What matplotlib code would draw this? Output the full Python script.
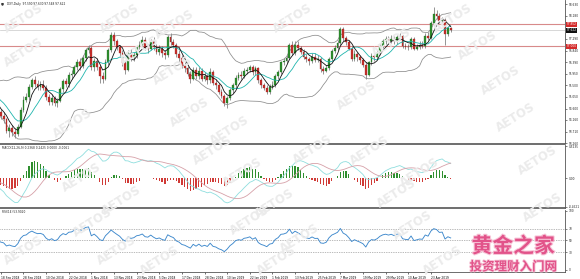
import numpy as np
import pandas as pd
import matplotlib
matplotlib.use('Agg')
import matplotlib.pyplot as plt
import matplotlib.patheffects as pe

# warm-up closes (before the visible window, only feed the indicators)
warm_close = [94.6, 95.1, 95.2, 95.4, 95.1, 95.1, 95.4, 96.2, 96.4, 96.7, 96.7, 96.6, 96.1,
              95.9, 95.2, 95.2, 95.7, 95.1, 94.7, 94.7, 94.6, 94.7, 95.1, 95.2, 95.4, 95.2,
              95.1, 95.4, 95.2, 95.2, 94.8, 94.5, 94.9, 94.5]
# visible daily bars
close = [94.30, 94.20, 93.75, 93.85, 93.70, 93.62, 93.90, 94.55, 94.95, 95.05,
         95.45, 95.70, 95.55, 95.45, 95.50, 95.40, 95.05, 94.85, 95.00, 94.80,
         94.90, 95.35, 95.65, 95.55, 95.90, 95.95, 96.20, 96.40, 96.25, 96.55,
         96.85, 96.95, 96.20, 96.45, 96.20, 95.85, 95.75, 96.40, 96.85, 97.45,
         97.20, 96.97, 96.75, 96.35, 96.10, 96.75, 96.55, 96.65, 96.96, 97.05,
         97.25, 96.95, 96.90, 97.20, 96.97, 96.80, 96.90, 96.74, 96.65, 97.35,
         97.18, 97.06, 96.70, 96.55, 96.25, 96.15, 95.95, 95.75, 96.10, 95.85,
         96.05, 95.75, 95.85, 95.70, 96.00, 95.60, 95.50, 95.25, 95.10, 94.80,
         95.00, 95.30, 95.50, 95.80, 95.90, 95.85, 96.05, 96.10, 96.20, 96.00,
         96.15, 95.70, 95.50, 95.40, 95.25, 95.45, 95.50, 95.85, 96.02, 96.39,
         96.43, 96.56, 97.07, 96.74, 97.07, 96.94, 96.80, 96.60, 96.51, 96.45,
         96.61, 96.49, 96.50, 96.11, 96.07, 96.15, 96.53, 96.81, 96.95, 97.12,
         97.66, 97.31, 97.18, 96.92, 96.53, 96.72, 96.58, 96.46, 96.30, 95.90,
         96.38, 96.64, 96.59, 96.74, 97.02, 97.20, 97.28, 97.21, 97.30, 97.20,
         97.36, 97.39, 97.03, 96.98, 96.96, 97.28, 96.92, 96.98, 97.05, 97.03,
         97.41, 97.33, 97.89, 98.25, 98.19, 97.99, 98.03, 97.48, 97.73, 97.622]
high = [94.60, 94.45, 94.25, 94.00, 93.95, 93.85, 94.00, 94.65, 95.10, 95.20,
        95.55, 95.80, 95.85, 95.70, 95.65, 95.70, 95.50, 95.15, 95.15, 95.10,
        95.00, 95.45, 95.75, 95.80, 96.00, 96.10, 96.30, 96.50, 96.55, 96.65,
        96.95, 97.05, 97.00, 96.55, 96.55, 96.30, 96.00, 96.50, 96.95, 97.55,
        97.55, 97.30, 97.05, 96.85, 96.45, 96.85, 96.90, 96.80, 97.05, 97.20,
        97.40, 97.35, 97.10, 97.30, 97.35, 97.10, 97.05, 97.00, 96.85, 97.45,
        97.50, 97.30, 97.15, 96.85, 96.65, 96.40, 96.25, 96.05, 96.20, 96.20,
        96.20, 96.15, 96.00, 95.95, 96.15, 96.10, 95.75, 95.60, 95.35, 95.15,
        95.10, 95.40, 95.60, 95.90, 96.00, 96.05, 96.15, 96.20, 96.30, 96.30,
        96.25, 96.20, 95.80, 95.60, 95.50, 95.55, 95.65, 95.95, 96.10, 96.45,
        96.55, 96.65, 97.15, 97.20, 97.20, 97.20, 97.00, 96.90, 96.70, 96.60,
        96.75, 96.75, 96.65, 96.60, 96.25, 96.30, 96.60, 96.90, 97.05, 97.25,
        97.75, 97.75, 97.40, 97.25, 97.00, 96.85, 96.80, 96.65, 96.55, 96.40,
        96.45, 96.75, 96.75, 96.85, 97.10, 97.30, 97.40, 97.40, 97.45, 97.40,
        97.45, 97.50, 97.45, 97.15, 97.10, 97.35, 97.35, 97.10, 97.20, 97.20,
        97.50, 97.55, 98.00, 98.52, 98.40, 98.30, 98.15, 98.10, 97.80, 97.76]
low = [94.20, 94.05, 93.65, 93.50, 93.55, 93.45, 93.55, 93.85, 94.45, 94.85,
       94.95, 95.35, 95.45, 95.30, 95.30, 95.30, 94.95, 94.75, 94.75, 94.70,
       94.65, 94.85, 95.25, 95.45, 95.45, 95.75, 95.85, 96.10, 96.10, 96.15,
       96.45, 96.75, 96.10, 96.05, 96.10, 95.60, 95.60, 95.70, 96.30, 96.80,
       97.05, 96.85, 96.60, 96.25, 95.95, 96.05, 96.45, 96.45, 96.55, 96.90,
       96.95, 96.85, 96.75, 96.85, 96.85, 96.70, 96.65, 96.60, 96.50, 96.60,
       97.05, 96.95, 96.60, 96.40, 96.15, 96.00, 95.85, 95.60, 95.70, 95.75,
       95.75, 95.65, 95.65, 95.55, 95.60, 95.50, 95.35, 95.15, 95.00, 94.70,
       94.62, 94.95, 95.20, 95.40, 95.70, 95.75, 95.80, 95.95, 96.00, 95.90,
       95.90, 95.60, 95.40, 95.30, 95.15, 95.15, 95.35, 95.45, 95.75, 95.95,
       96.30, 96.35, 96.50, 96.65, 96.65, 96.85, 96.70, 96.50, 96.40, 96.30,
       96.35, 96.40, 96.40, 96.00, 95.95, 96.00, 96.10, 96.45, 96.75, 96.85,
       97.05, 97.20, 97.05, 96.85, 96.45, 96.45, 96.45, 96.35, 96.20, 95.75,
       95.85, 96.30, 96.45, 96.50, 96.65, 96.95, 97.10, 97.10, 97.15, 97.10,
       97.10, 97.25, 96.95, 96.90, 96.85, 96.90, 96.85, 96.85, 96.90, 96.95,
       96.95, 97.25, 97.30, 97.80, 98.05, 97.90, 97.85, 97.05, 97.40, 97.55]
first_open = 94.45

tick_labels = ["18 Sep 2018", "28 Sep 2018", "10 Oct 2018", "22 Oct 2018", "1 Nov 2018",
               "13 Nov 2018", "23 Nov 2018", "5 Dec 2018", "17 Dec 2018", "28 Dec 2018",
               "10 Jan 2019", "22 Jan 2019", "1 Feb 2019", "13 Feb 2019", "25 Feb 2019",
               "7 Mar 2019", "19 Mar 2019", "29 Mar 2019", "10 Apr 2019", "23 Apr 2019"]
tick_bars = list(range(0, 160, 8))
price_ticks = [98.630, 98.180, 97.290, 96.840, 96.390, 95.950, 95.500, 95.050,
               94.600, 94.160, 93.710, 93.260]
level_red = [97.852, 97.000]
last_price = 97.622
header = "DXY,Daily  97.590 97.630 97.548 97.622"
macd_text = "MACD(12,26,9) 0.2368 0.2425 0.0000 -0.0061"
rsi_text = "RSI(14) 53.9020"
wm_pos = [(24, 18), (120, 18), (175, 24), (24, 52), (453, 18), (478, 45), (173, 70), (190, 112),
          (73, 123), (140, 50), (293, 18), (357, 95), (392, 42), (501, 80), (516, 117), (538, 160),
          (230, 130), (82, 177), (122, 200), (420, 172), (543, 207), (24, 250), (93, 222),
          (117, 250), (250, 220), (277, 260), (160, 260), (413, 225), (443, 260), (213, 150),
          (243, 172), (313, 149), (370, 150), (275, 203), (397, 193), (300, 238)]

# ---------- series ----------
n = len(close)
x = np.arange(n)
cv = np.array(close)
ov = np.concatenate([[first_open], cv[:-1]])
hv, lv = np.array(high), np.array(low)

c = pd.Series(warm_close + close, dtype=float)
nw = len(warm_close)
idx = np.arange(len(c)) - nw
sma5 = c.rolling(5, min_periods=1).mean()
sma10 = c.rolling(10, min_periods=1).mean()
mid = c.rolling(20, min_periods=1).mean()
sd = c.rolling(20, min_periods=1).std(ddof=0)
up, dn = mid + 2 * sd, mid - 2 * sd
ema12 = c.ewm(span=12, adjust=False).mean()
ema26 = c.ewm(span=26, adjust=False).mean()
macd = ema12 - ema26
sig = macd.rolling(9, min_periods=1).mean()
hist = (macd - sig).values
d = c.diff()
g = d.clip(lower=0).ewm(alpha=1/14, adjust=False).mean()
l = (-d.clip(upper=0)).ewm(alpha=1/14, adjust=False).mean()
rsi = 100 - 100 / (1 + g / l)

# ---------- layout ----------
W, H = 580, 279
fig = plt.figure(figsize=(W/100, H/100), dpi=100)
def rect(x0, y0, x1, y1):
    return [x0/W, 1 - y1/H, (x1 - x0)/W, (y1 - y0)/H]
ax1 = fig.add_axes(rect(0, 0, 565, 143.5))
ax2 = fig.add_axes(rect(0, 145, 565, 208))
ax3 = fig.add_axes(rect(0, 209.5, 565, 272))
XL = (-0.28, 199.4)
FS = 2.1

for (px, py) in wm_pos:
    fig.text(px / W, 1 - py / H, "AETOS", fontsize=8.5, color='#ebebeb', rotation=32,
             ha='center', va='center', fontweight='bold', zorder=0)

for ax in (ax1, ax2, ax3):
    ax.set_xlim(*XL)
    ax.set_facecolor('none')
    ax.yaxis.tick_right()
    ax.tick_params(axis='y', length=1.5, width=0.4, labelsize=FS, pad=1, colors='#222222')
    ax.tick_params(axis='x', length=0)
    ax.set_xticks([])
    for s in ax.spines.values():
        s.set_linewidth(0.6)
        s.set_color('#555555')
    ax.spines['top'].set_visible(False)
    ax.spines['left'].set_visible(False)

# main
ax1.set_ylim(93.252, 98.793)
ax1.set_yticks(price_ticks)
ax1.set_yticklabels([f"{v:.3f}" for v in price_ticks])
ax1.spines['bottom'].set_linewidth(1.2)
bull = cv >= ov
bear = ~bull
ax1.vlines(x, lv, hv, color='#444444', lw=0.4, zorder=2)
ax1.bar(x[bull], (cv - ov)[bull], bottom=ov[bull], width=0.64, color='#2f8f2f',
        edgecolor='#1d5e1d', lw=0.2, zorder=3)
ax1.bar(x[bear], (ov - cv)[bear], bottom=cv[bear], width=0.64, color='#c8302c',
        edgecolor='#8a1e1b', lw=0.2, zorder=3)
ax1.plot(idx, up, color='#8c8c8c', lw=0.55, zorder=2)
ax1.plot(idx, dn, color='#8c8c8c', lw=0.55, zorder=2)
ax1.plot(idx, sma10, color='#1fb5ad', lw=0.6, zorder=4)
ax1.plot(idx, sma5, color='#111111', lw=0.6, zorder=4)
for v in level_red:
    ax1.axhline(v, color='#d88a8a', lw=0.8, zorder=1)
    ax1.text(1.003, v, f"{v:.3f}", transform=ax1.get_yaxis_transform(), fontsize=FS,
             color='white', va='center', ha='left',
             bbox=dict(boxstyle='square,pad=0.15', fc='#d42a2a', ec='none'))
ax1.axhline(last_price, color='#c8c8c8', lw=0.5, zorder=1)
ax1.text(1.003, last_price, f"{last_price:.3f}", transform=ax1.get_yaxis_transform(),
         fontsize=FS, color='white', va='center', ha='left',
         bbox=dict(boxstyle='square,pad=0.15', fc='#111111', ec='none'))
ax1.text(0.012, 0.985, header, transform=ax1.transAxes, fontsize=FS, va='top', color='#222222')
ax1.plot([0.004], [0.975], marker='v', ms=1.2, color='#333333', transform=ax1.transAxes)

# MACD
ax2.set_ylim(-0.476, 0.54)
ax2.set_yticks([0.5235, 0.0, -0.4521])
ax2.set_yticklabels(["0.5235", "0.00", "-0.4521"])
vis = idx >= 0
pos = (hist >= 0) & vis
neg = (hist < 0) & vis
ax2.bar(idx[pos], hist[pos], width=0.45, color='#2f8f2f', lw=0)
ax2.bar(idx[neg], hist[neg], width=0.45, color='#d03a36', lw=0)
ax2.plot(idx, macd, color='#8fdede', lw=0.6)
ax2.plot(idx, sig, color='#d6a0a8', lw=0.6)
ax2.text(0.004, 0.985, macd_text, transform=ax2.transAxes, fontsize=FS, va='top', color='#222222')
ax2.spines['bottom'].set_linewidth(1.2)

# RSI
ax3.set_ylim(-3.4, 102.5)
ax3.set_yticks([100, 70, 50, 30, 0])
ax3.set_yticklabels(["100", "70", "50", "30", "0"])
for v in (70, 50, 30):
    ax3.axhline(v, color='#777777', lw=0.5, ls=(0, (1, 1.5)))
ax3.plot(idx, rsi, color='#3d88cc', lw=0.65)
ax3.text(0.004, 0.985, rsi_text, transform=ax3.transAxes, fontsize=FS, va='top', color='#222222')
ax3.set_xticks(tick_bars)
ax3.set_xticklabels(tick_labels, fontsize=FS, ha='left')
ax3.tick_params(axis='x', length=1.5, width=0.4, pad=1.2)

fig.text(0.885, 1 - 246 / H, "黄金之家", fontsize=15, color='#e2538a', ha='center', va='center',
         family=['Noto Sans CJK SC', 'DejaVu Sans'], fontweight='bold',
         path_effects=[pe.withStroke(linewidth=1.5, foreground='#f7c6d8')])
fig.text(0.885, 1 - 267 / H, "投资理财入门网", fontsize=9, color='#e2538a', ha='center', va='center',
         family=['Noto Sans CJK SC', 'DejaVu Sans'], fontweight='bold',
         path_effects=[pe.withStroke(linewidth=1.2, foreground='#f7c6d8')])

fig.savefig('out.png', dpi=100, facecolor='white')
